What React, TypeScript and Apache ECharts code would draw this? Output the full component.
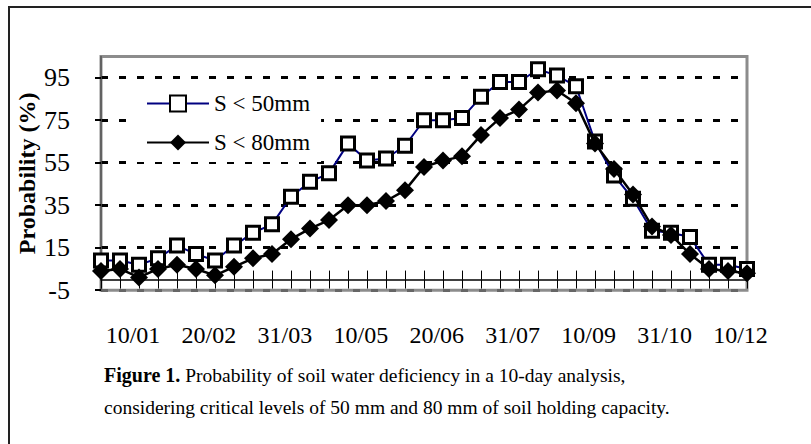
import React, { useEffect, useRef } from "react";
import * as echarts from "echarts";

const categories = [
  "10/01", "20/01", "31/01", "10/02", "20/02", "28/02", "10/03", "20/03", "31/03",
  "10/04", "20/04", "30/04", "10/05", "20/05", "31/05", "10/06", "20/06", "30/06",
  "10/07", "20/07", "31/07", "10/08", "20/08", "31/08", "10/09", "20/09", "30/09",
  "10/10", "20/10", "31/10", "10/11", "20/11", "30/11", "10/12", "20/12",
];

const s50 = [9, 9, 7, 10, 16, 12, 9, 16, 22, 26, 39, 46, 50, 64, 56, 57, 63, 75, 75, 76, 86, 93, 93, 99, 96, 91, 65, 49, 38, 23, 22, 20, 7, 7, 5];
const s80 = [4, 5, 1, 5, 7, 5, 2, 6, 10, 12, 19, 24, 28, 35, 35, 37, 42, 53, 56, 58, 68, 76, 80, 88, 89, 83, 64, 52, 40, 25, 21, 12, 5, 4, 3];

const tickLabels = ["10/01", "20/02", "31/03", "10/05", "20/06", "31/07", "10/09", "31/10", "10/12"];
const yTickValues = [-5, 15, 35, 55, 75, 95];

const seriesNames = ["S < 50mm", "S < 80mm"];
const yMin = -5;
const yMax = 105;
const yInterval = 20;

const FONT = "Liberation Serif";

export default function App() {
  const ref = useRef<HTMLDivElement>(null);
  useEffect(() => {
    if (!ref.current) return;
    const chart = echarts.init(ref.current, null, { renderer: "svg" });
    const option: any = {
      animation: false,
      backgroundColor: "#fff",
      textStyle: { fontFamily: FONT, color: "#000" },
      grid: [
        { left: 101, top: 56.5, width: 646, height: 233.7, show: true, borderColor: "#8c8c8c", borderWidth: 3, backgroundColor: "transparent" },
        { left: 95, top: 310, width: 683.5, height: 10 },
      ],
      xAxis: [
        {
          type: "category", gridIndex: 0, data: categories, boundaryGap: false,
          axisLine: { show: true, onZero: true, onZeroAxisIndex: 0, lineStyle: { color: "#000", width: 1.5 } },
          axisTick: { show: true, interval: 0, length: 9, lineStyle: { color: "#000", width: 1 } },
          axisLabel: { show: false }, splitLine: { show: false },
        },
        {
          type: "category", gridIndex: 0, position: "top", data: categories, boundaryGap: false,
          axisLine: { show: false, onZero: true, onZeroAxisIndex: 0 },
          axisTick: { show: true, interval: 0, length: 9, lineStyle: { color: "#000", width: 1 } },
          axisLabel: { show: false }, splitLine: { show: false },
        },
        {
          type: "category", gridIndex: 1, data: tickLabels, boundaryGap: true,
          axisLine: { show: false }, axisTick: { show: false },
          axisLabel: { interval: 0, fontSize: 24, color: "#000", fontFamily: FONT, margin: 3 },
        },
      ],
      yAxis: [
        {
          type: "value", gridIndex: 0, min: yMin, max: yMax, interval: yInterval,
          axisLine: { show: true, lineStyle: { color: "#555", width: 1.5 } },
          axisTick: { show: true, length: 6, customValues: yTickValues, lineStyle: { color: "#000", width: 2 } },
          axisLabel: {
            fontSize: 26, color: "#000", fontFamily: FONT, margin: 31,
            formatter: (v: number) => (v === yMax ? "" : String(v)),
          },
          splitLine: {
            show: true,
            lineStyle: { color: ["#666", "#000", "#000", "#000", "#000", "#000", "#8c8c8c"], width: 3, type: [7, 11] },
          },
          name: "Probability (%)", nameLocation: "middle", nameGap: 62, nameMoveOverlap: false,
          nameTextStyle: { fontSize: 24, fontWeight: "bold", color: "#000", fontFamily: FONT },
        },
        { type: "value", gridIndex: 1, show: false },
      ],
      legend: {
        orient: "vertical", left: 128, top: 84, padding: [8, 11, 8, 18], backgroundColor: "#fff",
        itemWidth: 62, itemHeight: 20, itemGap: 16,
        textStyle: { fontSize: 23, color: "#000", fontFamily: FONT },
        data: seriesNames,
      },
      series: [
        {
          name: seriesNames[0], type: "line", xAxisIndex: 0, yAxisIndex: 0, data: s50,
          symbol: "rect", symbolSize: 13, showSymbol: true, showAllSymbol: true, z: 3,
          lineStyle: { color: "#000080", width: 2 },
          itemStyle: { color: "#fff", borderColor: "#000", borderWidth: 3 },
        },
        {
          name: seriesNames[1], type: "line", xAxisIndex: 0, yAxisIndex: 0, data: s80,
          symbol: "diamond", symbolSize: 18, showSymbol: true, showAllSymbol: true, z: 4,
          lineStyle: { color: "#000", width: 2.5 },
          itemStyle: { color: "#000", borderColor: "#000", borderWidth: 0 },
        },
      ],
      graphic: [
        { type: "rect", silent: true, shape: { x: 9, y: 7, width: 900, height: 500 }, style: { fill: "none", stroke: "#222", lineWidth: 2 } },
        {
          type: "text", x: 104, y: 375, silent: true,
          style: {
            text: "{b|Figure 1.} Probability of soil water deficiency in a 10-day analysis,",
            fontSize: 19.5, fontFamily: FONT, fill: "#000", verticalAlign: "middle",
            rich: { b: { fontWeight: "bold", fontSize: 20, fontFamily: FONT, fill: "#000" } },
          },
        },
        {
          type: "text", x: 104, y: 407, silent: true,
          style: {
            text: "considering critical levels of 50 mm and 80 mm of soil holding capacity.",
            fontSize: 19.5, fontFamily: FONT, fill: "#000", verticalAlign: "middle",
          },
        },
      ],
    };
    chart.setOption(option);
    return () => chart.dispose();
  }, []);
  return (
    <div
      ref={ref}
      style={{ position: "fixed", left: 0, top: 0, width: 811, height: 444, background: "#fff" }}
    />
  );
}
